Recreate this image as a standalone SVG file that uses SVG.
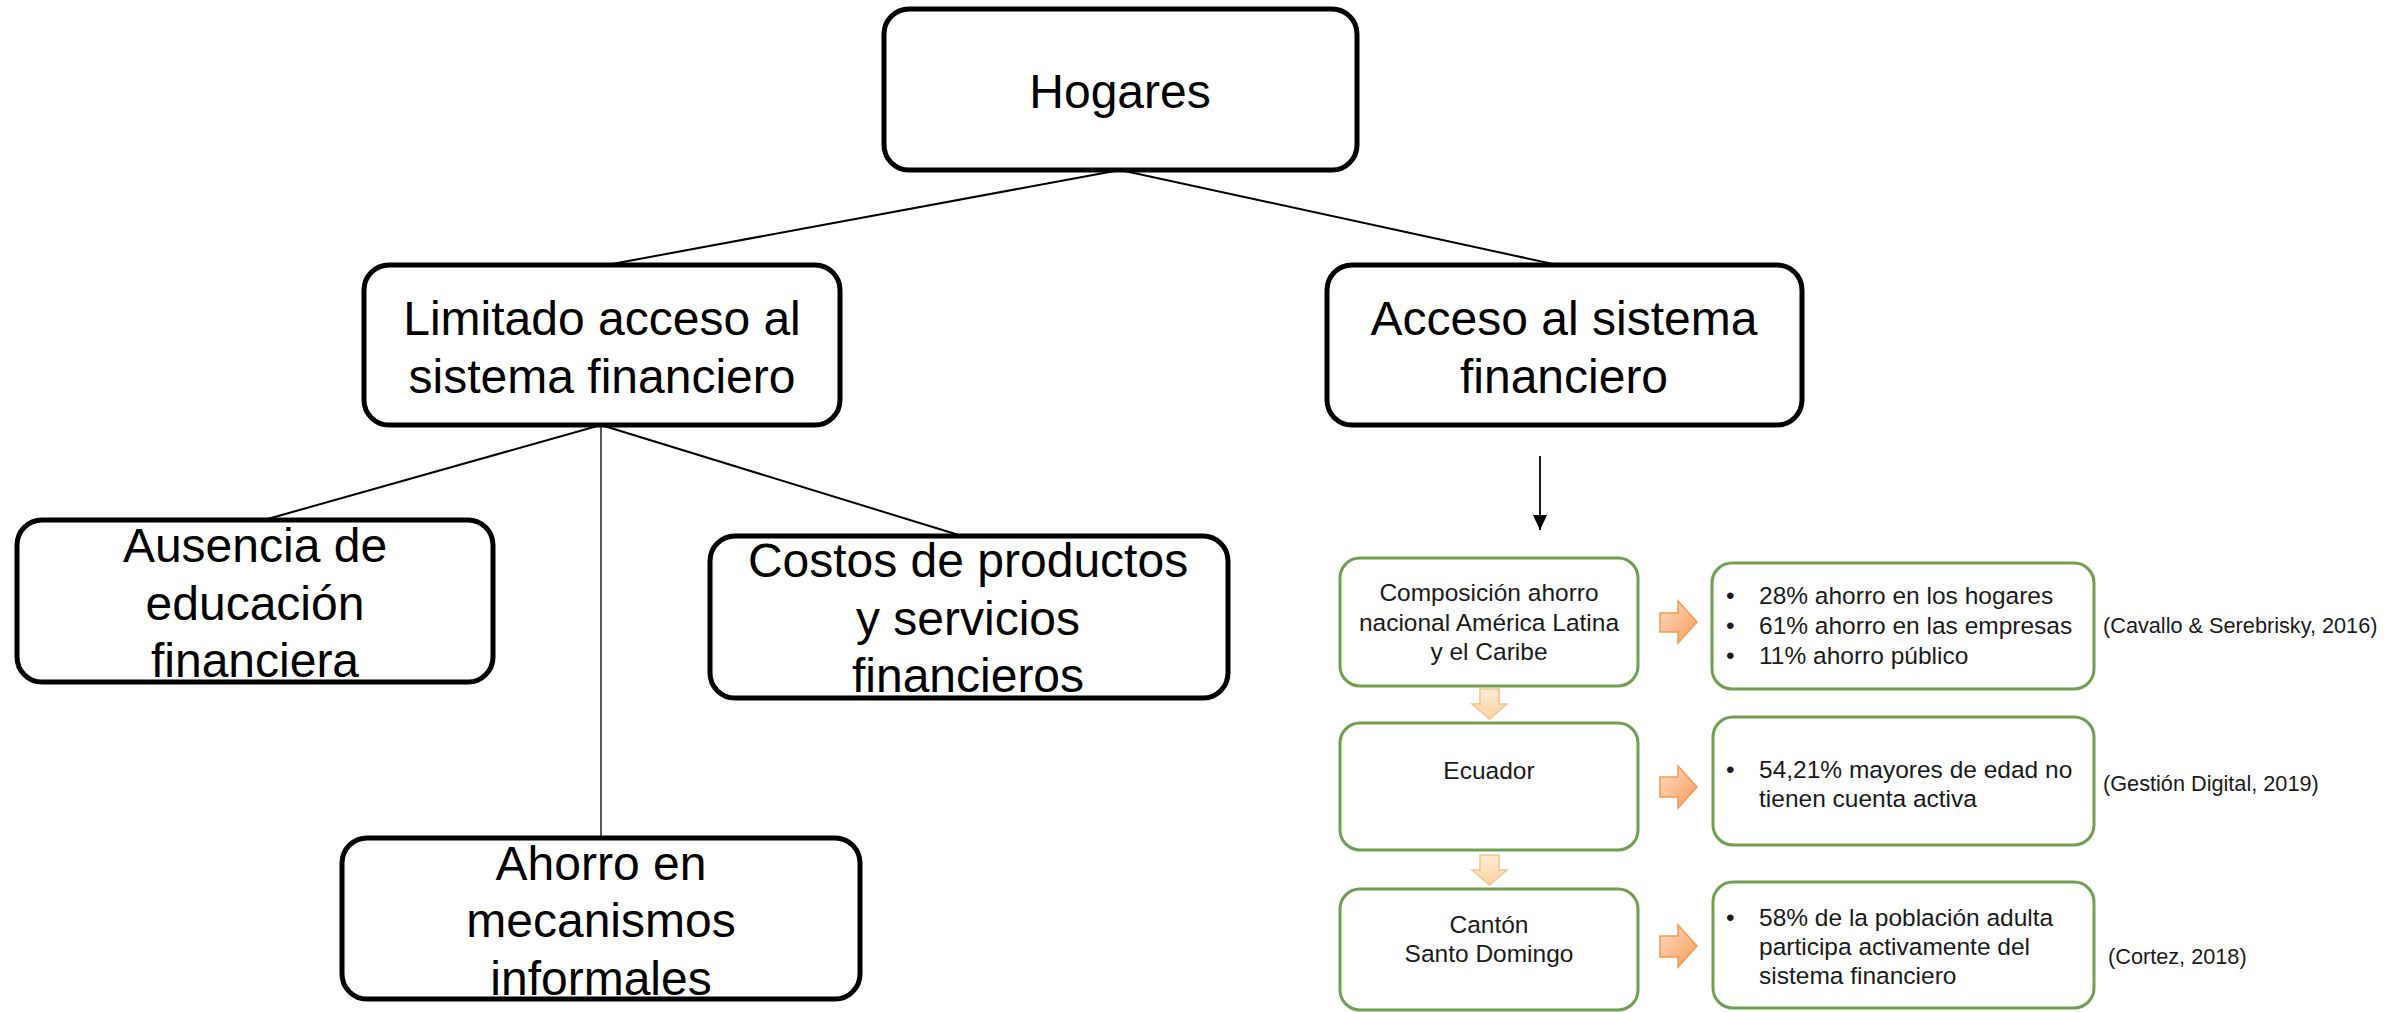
<svg xmlns="http://www.w3.org/2000/svg" width="2407" height="1012" viewBox="0 0 2407 1012">
<defs>
<style>
.big{fill:#fff;stroke:#000;stroke-width:5}
.grn{fill:#fff;stroke:#6f9f50;stroke-width:3}
.bt{font-family:"Liberation Sans",Arial,sans-serif;font-size:48px;fill:#000;text-anchor:middle}
.st{font-family:"Liberation Sans",Arial,sans-serif;font-size:24.5px;fill:#1a1a1a}
.mid{text-anchor:middle}
.ct{font-family:"Liberation Sans",Arial,sans-serif;font-size:21.7px;fill:#1a1a1a}
.ln{stroke:#000;stroke-width:2;fill:none}
.ra{fill:url(#og);stroke:#f39a52;stroke-width:1.5}
.da{fill:url(#pg);stroke:#f5c48a;stroke-width:1.5}
</style>
<linearGradient id="og" x1="0" y1="0" x2="1" y2="1">
<stop offset="0" stop-color="#fddcc6"/>
<stop offset="1" stop-color="#f89a55"/>
</linearGradient>
<linearGradient id="pg" x1="0" y1="0" x2="0" y2="1">
<stop offset="0" stop-color="#fdebd6"/>
<stop offset="1" stop-color="#fbd3a0"/>
</linearGradient>
<marker id="ah" markerWidth="15" markerHeight="14" refX="15" refY="7" orient="auto" markerUnits="userSpaceOnUse">
<path d="M0,0 L15,7 L0,14 Z" fill="#000"/>
</marker>
</defs>
<rect width="2407" height="1012" fill="#fff"/>
<g id="connectors">
<line class="ln" x1="1120" y1="170" x2="612" y2="264"/>
<line class="ln" x1="1120" y1="170" x2="1553" y2="264"/>
<line class="ln" x1="601" y1="425" x2="264" y2="520"/>
<line class="ln" x1="601" y1="425" x2="962" y2="536"/>
<line class="ln" x1="601" y1="425" x2="601" y2="838" style="stroke-width:1.3"/>
<line class="ln" x1="1540" y1="456" x2="1540" y2="530" style="stroke-width:1.8" marker-end="url(#ah)"/>
<path class="ra" d="M1660,613 H1678 V601 L1697,622 L1678,643 V632 H1660 Z"/>
<path class="ra" d="M1660,777 H1678 V766 L1697,787 L1678,808 V797 H1660 Z"/>
<path class="ra" d="M1660,936 H1678 V925 L1697,946 L1678,967 V957 H1660 Z"/>
<path class="da" d="M1480,689 H1499 V704 H1507 L1489.5,719 L1472,704 H1480 Z"/>
<path class="da" d="M1480,855 H1499 V870 H1507 L1489.5,885 L1472,870 H1480 Z"/>
</g>
<g id="hogares">
<rect class="big" x="884" y="9" width="473" height="161" rx="25"/>
<text class="bt" x="1120" y="108">Hogares</text>
</g>
<g id="limitado">
<rect class="big" x="364" y="265" width="476" height="160" rx="25"/>
<text class="bt" x="602" y="335">Limitado acceso al</text>
<text class="bt" x="602" y="393">sistema financiero</text>
</g>
<g id="acceso">
<rect class="big" x="1327" y="265" width="475" height="160" rx="25"/>
<text class="bt" x="1564" y="335">Acceso al sistema</text>
<text class="bt" x="1564" y="393">financiero</text>
</g>
<g id="ausencia">
<rect class="big" x="17" y="520" width="476" height="162" rx="25"/>
<text class="bt" x="255" y="562">Ausencia de</text>
<text class="bt" x="255" y="620">educación</text>
<text class="bt" x="255" y="677">financiera</text>
</g>
<g id="costos">
<rect class="big" x="710" y="536" width="518" height="162" rx="25"/>
<text class="bt" x="968" y="577">Costos de productos</text>
<text class="bt" x="968" y="635">y servicios</text>
<text class="bt" x="968" y="692">financieros</text>
</g>
<g id="ahorro">
<rect class="big" x="342" y="838" width="518" height="161" rx="25"/>
<text class="bt" x="601" y="880">Ahorro en</text>
<text class="bt" x="601" y="937">mecanismos</text>
<text class="bt" x="601" y="995">informales</text>
</g>
<g id="composicion">
<rect class="grn" x="1340" y="558" width="298" height="128" rx="20"/>
<text class="st mid" x="1489" y="601">Composición ahorro</text>
<text class="st mid" x="1489" y="631">nacional América Latina</text>
<text class="st mid" x="1489" y="660">y el Caribe</text>
</g>
<g id="datos1">
<rect class="grn" x="1712" y="563" width="382" height="126" rx="20"/>
<text class="st" x="1726" y="604">•</text>
<text class="st" x="1759" y="604">28% ahorro en los hogares</text>
<text class="st" x="1726" y="634">•</text>
<text class="st" x="1759" y="634">61% ahorro en las empresas</text>
<text class="st" x="1726" y="664">•</text>
<text class="st" x="1759" y="664">11% ahorro público</text>
</g>
<text class="ct" id="cita1" x="2103" y="633">(Cavallo &amp; Serebrisky, 2016)</text>
<g id="ecuador">
<rect class="grn" x="1340" y="723" width="298" height="127" rx="20"/>
<text class="st mid" x="1489" y="779">Ecuador</text>
</g>
<g id="datos2">
<rect class="grn" x="1713" y="717" width="381" height="128" rx="20"/>
<text class="st" x="1726" y="778">•</text>
<text class="st" x="1759" y="778">54,21% mayores de edad no</text>
<text class="st" x="1759" y="807">tienen cuenta activa</text>
</g>
<text class="ct" id="cita2" x="2103" y="791">(Gestión Digital, 2019)</text>
<g id="canton">
<rect class="grn" x="1340" y="889" width="298" height="121" rx="20"/>
<text class="st mid" x="1489" y="933">Cantón</text>
<text class="st mid" x="1489" y="962">Santo Domingo</text>
</g>
<g id="datos3">
<rect class="grn" x="1713" y="882" width="381" height="126" rx="20"/>
<text class="st" x="1726" y="926">•</text>
<text class="st" x="1759" y="926">58% de la población adulta</text>
<text class="st" x="1759" y="955">participa activamente del</text>
<text class="st" x="1759" y="984">sistema financiero</text>
</g>
<text class="ct" id="cita3" x="2108" y="964">(Cortez, 2018)</text>
</svg>
